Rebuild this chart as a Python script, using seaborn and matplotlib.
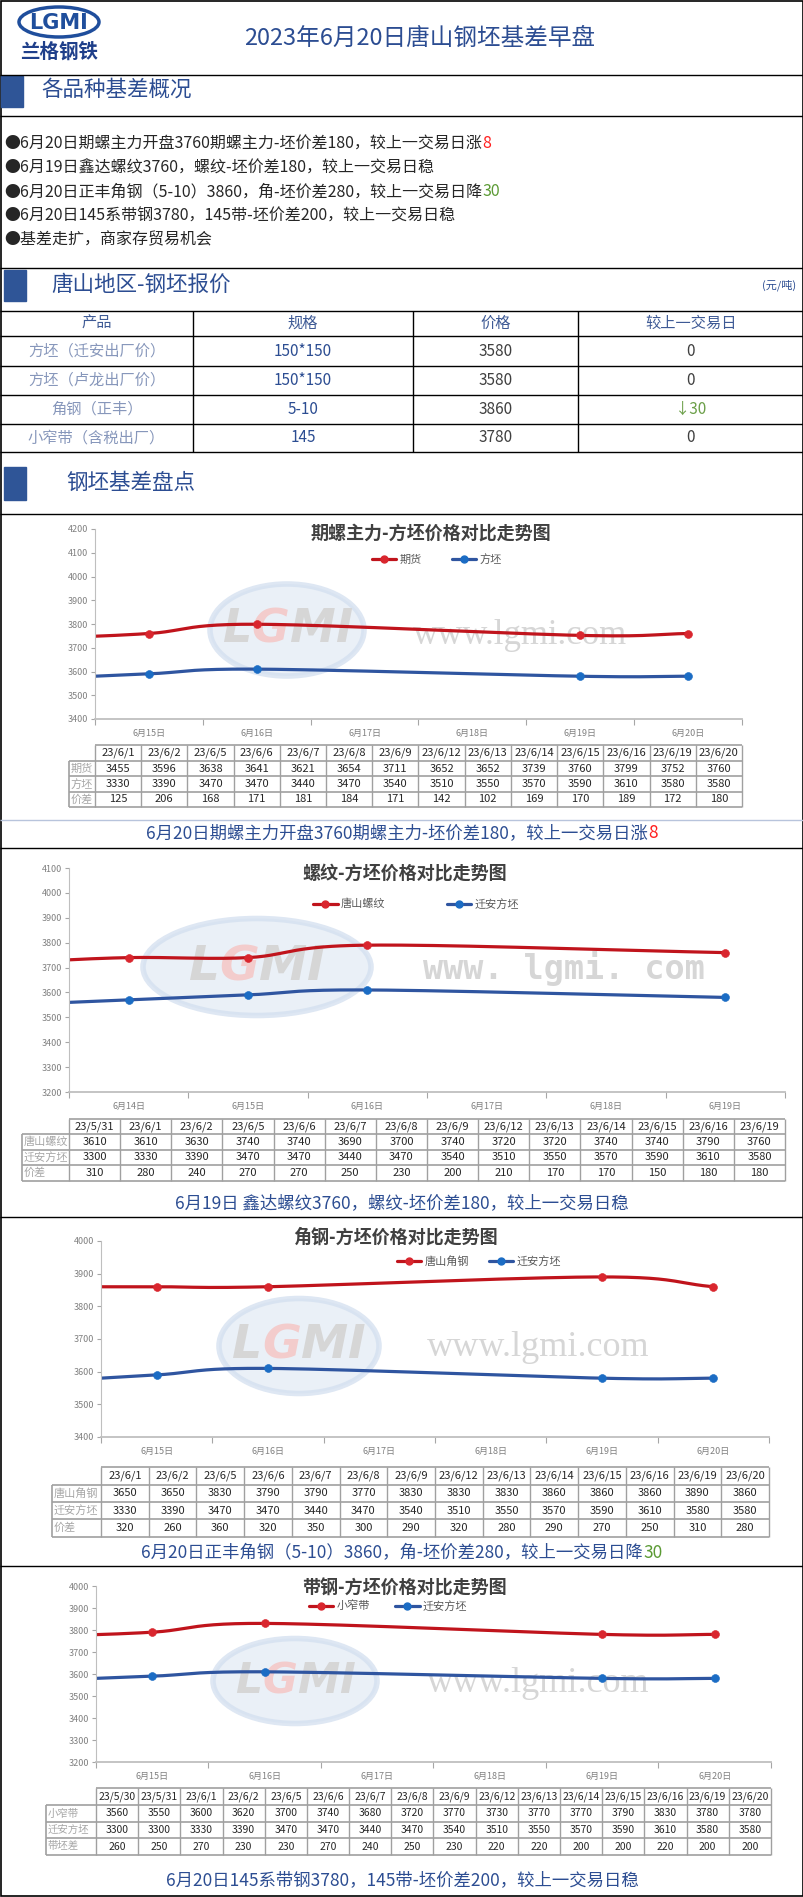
import numpy as np
import pandas as pd
import matplotlib
matplotlib.use('Agg')
import matplotlib.pyplot as plt
import seaborn as sns
from matplotlib.patches import Rectangle, Ellipse
from matplotlib.lines import Line2D
from matplotlib.offsetbox import TextArea, HPacker, AnnotationBbox

# ---------------- data ----------------
report_title = '2023年6月20日唐山钢坯基差早盘'

bullets = [
    ('●6月20日期螺主力开盘3760期螺主力-坯价差180，较上一交易日涨', '8', '#ff2020'),
    ('●6月19日鑫达螺纹3760，螺纹-坯价差180，较上一交易日稳', '', None),
    ('●6月20日正丰角钢（5-10）3860，角-坯价差280，较上一交易日降', '30', '#5b9a34'),
    ('●6月20日145系带钢3780，145带-坯价差200，较上一交易日稳', '', None),
    ('●基差走扩，商家存贸易机会', '', None),
]

quote_header = ['产品', '规格', '价格', '较上一交易日']
quote_products = ['方坯（迁安出厂价）', '方坯（卢龙出厂价）', '角钢（正丰）', '小窄带（含税出厂）']
quote_specs = ['150*150', '150*150', '5-10', '145']
quote_prices = [3580, 3580, 3860, 3780]
quote_changes = ['0', '0', '↓30', '0']

# chart 1
c1_days = ['6月15日', '6月16日', '6月17日', '6月18日', '6月19日', '6月20日']
c1_dates = ['23/6/1', '23/6/2', '23/6/5', '23/6/6', '23/6/7', '23/6/8', '23/6/9',
            '23/6/12', '23/6/13', '23/6/14', '23/6/15', '23/6/16', '23/6/19', '23/6/20']
c1_future = [3455, 3596, 3638, 3641, 3621, 3654, 3711, 3652, 3652, 3739, 3760, 3799, 3752, 3760]
c1_billet = [3330, 3390, 3470, 3470, 3440, 3470, 3540, 3510, 3550, 3570, 3590, 3610, 3580, 3580]
c1_spread = [125, 206, 168, 171, 181, 184, 171, 142, 102, 169, 170, 189, 172, 180]

# chart 2
c2_days = ['6月14日', '6月15日', '6月16日', '6月17日', '6月18日', '6月19日']
c2_dates = ['23/5/31', '23/6/1', '23/6/2', '23/6/5', '23/6/6', '23/6/7', '23/6/8',
            '23/6/9', '23/6/12', '23/6/13', '23/6/14', '23/6/15', '23/6/16', '23/6/19']
c2_rebar = [3610, 3610, 3630, 3740, 3740, 3690, 3700, 3740, 3720, 3720, 3740, 3740, 3790, 3760]
c2_billet = [3300, 3330, 3390, 3470, 3470, 3440, 3470, 3540, 3510, 3550, 3570, 3590, 3610, 3580]
c2_spread = [310, 280, 240, 270, 270, 250, 230, 200, 210, 170, 170, 150, 180, 180]

# chart 3
c3_days = ['6月15日', '6月16日', '6月17日', '6月18日', '6月19日', '6月20日']
c3_dates = c1_dates
c3_angle = [3650, 3650, 3830, 3790, 3790, 3770, 3830, 3830, 3830, 3860, 3860, 3860, 3890, 3860]
c3_billet = [3330, 3390, 3470, 3470, 3440, 3470, 3540, 3510, 3550, 3570, 3590, 3610, 3580, 3580]
c3_spread = [320, 260, 360, 320, 350, 300, 290, 320, 280, 290, 270, 250, 310, 280]

# chart 4
c4_days = ['6月15日', '6月16日', '6月17日', '6月18日', '6月19日', '6月20日']
c4_dates = ['23/5/30', '23/5/31', '23/6/1', '23/6/2', '23/6/5', '23/6/6', '23/6/7', '23/6/8',
            '23/6/9', '23/6/12', '23/6/13', '23/6/14', '23/6/15', '23/6/16', '23/6/19', '23/6/20']
c4_strip = [3560, 3550, 3600, 3620, 3700, 3740, 3680, 3720, 3770, 3730, 3770, 3770, 3790, 3830, 3780, 3780]
c4_billet = [3300, 3300, 3330, 3390, 3470, 3470, 3440, 3470, 3540, 3510, 3550, 3570, 3590, 3610, 3580, 3580]
c4_spread = [260, 250, 270, 230, 230, 270, 240, 250, 230, 220, 220, 200, 200, 220, 200, 200]

captions = [
    ('6月20日期螺主力开盘3760期螺主力-坯价差180，较上一交易日涨', '8', '#ff2020'),
    ('6月19日 鑫达螺纹3760，螺纹-坯价差180，较上一交易日稳', '', None),
    ('6月20日正丰角钢（5-10）3860，角-坯价差280，较上一交易日降', '30', '#5b9a34'),
    ('6月20日145系带钢3780，145带-坯价差200，较上一交易日稳', '', None),
]

# ---------------- style ----------------
sns.set_style('white')
plt.rcParams['font.family'] = ['Noto Sans CJK SC', 'DejaVu Sans']

W, H = 804, 1897
BLUE_TXT = '#2c4d92'
RED, RED_M = '#c0141c', '#d9262e'
BLU, BLU_M = '#2f55a0', '#1b6cc4'

fig = plt.figure(figsize=(W / 100, H / 100), dpi=100)
bg = fig.add_axes([0, 0, 1, 1])
bg.set_xlim(0, W)
bg.set_ylim(H, 0)
bg.axis('off')


def hline(y, x0=0, x1=W, color='black', lw=1.0):
    bg.plot([x0, x1], [y, y], color=color, lw=lw, solid_capstyle='butt')


def vline(x, y0, y1, color='black', lw=1.0):
    bg.plot([x, x], [y0, y1], color=color, lw=lw, solid_capstyle='butt')


def rich(x, y, main, tail, tail_color, color, size, align):
    parts = [TextArea(main, textprops=dict(color=color, fontsize=size))]
    if tail:
        parts.append(TextArea(tail, textprops=dict(color=tail_color, fontsize=size)))
    box = HPacker(children=parts, pad=0, sep=0, align='baseline')
    ab = AnnotationBbox(box, (x, y), xycoords='data', frameon=False,
                        box_alignment=(align, 0.5), pad=0)
    bg.add_artist(ab)


# outer border
bg.add_patch(Rectangle((0.5, 0.5), W - 1.5, H - 1.5, fill=False, ec='black', lw=1.2))

# logo
bg.add_patch(Ellipse((59, 22), 80, 30, fc='white', ec='#1f4e9c', lw=2.5))
bg.text(59, 23, 'LGMI', ha='center', va='center', fontsize=15, fontweight='bold',
        color='#1f4e9c', family=['DejaVu Sans'])
bg.text(59, 52, '兰格钢铁', ha='center', va='center', fontsize=14, fontweight='bold', color='#1f3f8a')

bg.text(420, 38, report_title, ha='center', va='center', fontsize=17, color=BLUE_TXT)

# section lines
for y in [75, 116, 268, 514, 848, 1217, 1566]:
    hline(y)
hline(820, color='#b8c4dc', lw=1.0)

# section headers
for (x0, y0, y1, tx, ty, txt) in [(1, 76, 107, 41, 90, '各品种基差概况'),
                                   (4, 270, 301, 51, 285, '唐山地区-钢坯报价'),
                                   (4, 467, 500, 66, 483, '钢坯基差盘点')]:
    bg.add_patch(Rectangle((x0, y0), 22, y1 - y0, color='#2f5597'))
    bg.text(tx, ty, txt, ha='left', va='center', fontsize=15.5, color=BLUE_TXT)
bg.text(796, 285, '(元/吨)', ha='right', va='center', fontsize=8, color=BLUE_TXT)

# bullets
for i, (main, tail, tc) in enumerate(bullets):
    rich(4, 144 + 24 * i, main, tail, tc, '#262626', 11.5, 0.0)

# quote table
q_rows = [311, 336, 366, 395, 424, 452]
q_cols = [0, 193, 413, 578, W]
for y in q_rows:
    hline(y)
for x in q_cols[1:-1]:
    vline(x, q_rows[0], q_rows[-1])
for j, h in enumerate(quote_header):
    bg.text((q_cols[j] + q_cols[j + 1]) / 2, (q_rows[0] + q_rows[1]) / 2, h,
            ha='center', va='center', fontsize=11, color='#3e5a95')
for i in range(len(quote_products)):
    yc = (q_rows[i + 1] + q_rows[i + 2]) / 2
    vals = [quote_products[i], quote_specs[i], str(quote_prices[i]), quote_changes[i]]
    cols = ['#8797bb', BLUE_TXT, '#404040',
            '#6b9f48' if quote_changes[i].startswith('↓') else '#404040']
    for j, v in enumerate(vals):
        bg.text((q_cols[j] + q_cols[j + 1]) / 2, yc, v, ha='center', va='center',
                fontsize=11, color=cols[j])


def smooth(xs, ys, n=40):
    pts = np.column_stack([xs, ys]).astype(float)
    p = np.vstack([2 * pts[0] - pts[1], pts, 2 * pts[-1] - pts[-2]])
    t = np.linspace(0, 1, n)[:, None]
    segs = []
    for i in range(1, len(p) - 2):
        p0, p1, p2, p3 = p[i - 1], p[i], p[i + 1], p[i + 2]
        segs.append(0.5 * (2 * p1 + (-p0 + p2) * t + (2 * p0 - 5 * p1 + 4 * p2 - p3) * t ** 2
                           + (-p0 + 3 * p1 - 3 * p2 + p3) * t ** 3))
    return np.vstack(segs)


def watermark(cx, cy, w, h, wx, wy, fs, mono=False):
    bg.add_patch(Ellipse((cx, cy), w, h, fc='#e3ebf5', ec='#d3dfef', lw=4, alpha=0.75, zorder=0))
    letters = [TextArea(ch, textprops=dict(color=c, fontsize=h * 0.36, fontweight='bold',
                                           fontstyle='italic', family=['DejaVu Sans']))
               for ch, c in zip('LGMI', ['#d6d6d6', '#f3cccc', '#d6d6d6', '#d6d6d6'])]
    bg.add_artist(AnnotationBbox(HPacker(children=letters, pad=0, sep=0), (cx, cy), frameon=False,
                                 box_alignment=(0.5, 0.5), pad=0, zorder=1))
    if mono:
        bg.text(wx, wy, 'www. lgmi. com', ha='center', va='center', fontsize=fs,
                fontweight='bold', color='#d6d6d6', family=['DejaVu Sans Mono'], zorder=1)
    else:
        bg.text(wx, wy, 'www.lgmi.com', ha='center', va='center', fontsize=fs,
                color='#d6d6d6', family=['Liberation Serif'], zorder=1)


def chart(box, days, dates, s1, s2, names, ylim, title, title_xy, leg_xy, colsp):
    x0, y0, x1, y1 = box
    ax = fig.add_axes([x0 / W, 1 - y1 / H, (x1 - x0) / W, (y1 - y0) / H])
    ax.patch.set_alpha(0)
    base = pd.Timestamp('2023-06-' + days[0][2:-1])
    when = pd.to_datetime(['20' + d for d in dates], format='%Y/%m/%d')
    pos = np.array((when - base).days)[-5:]
    for vals, lc, mc in [(s1, RED, RED_M), (s2, BLU, BLU_M)]:
        v = np.array(vals[-5:])
        sm = smooth(pos, v)
        sns.lineplot(x=sm[:, 0], y=sm[:, 1], sort=False, estimator=None, ax=ax,
                     color=lc, lw=2.3)
        sns.scatterplot(x=pos, y=v, ax=ax, color=mc, s=32, edgecolor=mc, zorder=3)
    n = len(days)
    ax.set_xlim(-0.5, n - 0.5)
    ax.set_ylim(*ylim)
    ax.set_yticks(np.arange(ylim[0], ylim[1] + 1, 100))
    ax.set_xticks(np.arange(-0.5, n, 1))
    ax.set_xticklabels([])
    ax.set_xticks(np.arange(n), minor=True)
    ax.set_xticklabels(days, minor=True)
    ax.tick_params(axis='x', which='major', length=4, color='#a6a6a6', direction='out', bottom=True)
    ax.tick_params(axis='x', which='minor', length=0, labelsize=6.5, labelcolor='#808080', pad=7)
    ax.tick_params(axis='y', length=3, color='#a6a6a6', labelsize=6.5, labelcolor='#808080',
                   direction='out', left=True, pad=2)
    for s in ['top', 'right']:
        ax.spines[s].set_visible(False)
    ax.spines['left'].set_color('#bfbfbf')
    ax.spines['left'].set_linewidth(0.8)
    ax.spines['bottom'].set_color('#bfbfbf')
    ax.spines['bottom'].set_linewidth(1.3)
    ax.set_xlabel('')
    ax.set_ylabel('')
    bg.text(*title_xy, title, ha='center', va='center', fontsize=13, fontweight='bold', color='#404040')
    handles = [Line2D([], [], color=RED, lw=2.3, marker='o', ms=5, mfc=RED_M, mec=RED_M),
               Line2D([], [], color=BLU, lw=2.3, marker='o', ms=5, mfc=BLU_M, mec=BLU_M)]
    ax.legend(handles, names, loc='center', bbox_to_anchor=leg_xy, bbox_transform=bg.transData,
              ncol=2, frameon=False, fontsize=8, handlelength=2.2, handletextpad=0.3,
              columnspacing=colsp, labelcolor='#595959')
    return ax


def table(xl, xd, xr, ys, header, rows, labels, fs):
    n = len(header)
    w = (xr - xd) / n
    lc = '#a0a0a0'
    hline(ys[0], xd, xr, color=lc, lw=1.2)
    for y in ys[1:]:
        hline(y, xl, xr, color=lc, lw=1.2)
    for k in range(n + 1):
        vline(xd + w * k, ys[0], ys[-1], color=lc, lw=1.0)
    vline(xl, ys[1], ys[-1], color=lc, lw=1.2)
    for j, h in enumerate(header):
        bg.text(xd + w * (j + 0.5), (ys[0] + ys[1]) / 2, h, ha='center', va='center',
                fontsize=fs, color='#262626')
    for i, (lab, row) in enumerate(zip(labels, rows)):
        yc = (ys[i + 1] + ys[i + 2]) / 2
        bg.text(xl + 2, yc, lab, ha='left', va='center', fontsize=fs, color='#a6a6a6')
        for j, v in enumerate(row):
            bg.text(xd + w * (j + 0.5), yc, str(v), ha='center', va='center',
                    fontsize=fs, color='#262626')


# watermarks behind the lines
watermark(287, 630, 154, 92, 520, 635, 25)
watermark(257, 967, 228, 97, 564, 968, 24, mono=True)
watermark(299, 1346, 160, 95, 538, 1348, 26)
watermark(295, 1681, 164, 85, 538, 1683, 26)

chart((95, 529, 742, 719), c1_days, c1_dates, c1_future, c1_billet, ['期货', '方坯'],
      (3400, 4200), '期螺主力-方坯价格对比走势图', (431, 533), (437, 559), 2.7)
table(69, 95, 742, [745, 761, 776, 792, 807], c1_dates,
      [c1_future, c1_billet, c1_spread], ['期货', '方坯', '价差'], 8)

chart((69, 868, 785, 1092), c2_days, c2_dates, c2_rebar, c2_billet, ['唐山螺纹', '迁安方坯'],
      (3200, 4100), '螺纹-方坯价格对比走势图', (405, 873), (416, 904), 5.5)
table(22, 69, 785, [1119, 1134, 1150, 1165, 1181], c2_dates,
      [c2_rebar, c2_billet, c2_spread], ['唐山螺纹', '迁安方坯', '价差'], 8)

chart((101, 1241, 769, 1437), c3_days, c3_dates, c3_angle, c3_billet, ['唐山角钢', '迁安方坯'],
      (3400, 4000), '角钢-方坯价格对比走势图', (395, 1237), (479, 1261), 1.8)
table(52, 101, 769, [1467, 1485, 1502, 1519, 1537], c3_dates,
      [c3_angle, c3_billet, c3_spread], ['唐山角钢', '迁安方坯', '价差'], 8)

chart((96, 1586, 771, 1762), c4_days, c4_dates, c4_strip, c4_billet, ['小窄带', '迁安方坯'],
      (3200, 4000), '带钢-方坯价格对比走势图', (404, 1588), (388, 1606), 2.3)
table(46, 96, 771, [1788, 1805, 1822, 1838, 1855], c4_dates,
      [c4_strip, c4_billet, c4_spread], ['小窄带', '迁安方坯', '带坯差'], 7.5)

for (main, tail, tc), y in zip(captions, [833, 1203, 1553, 1880]):
    rich(402, y, main, tail, tc, BLUE_TXT, 12.5, 0.5)

fig.savefig('out.png', dpi=100)
